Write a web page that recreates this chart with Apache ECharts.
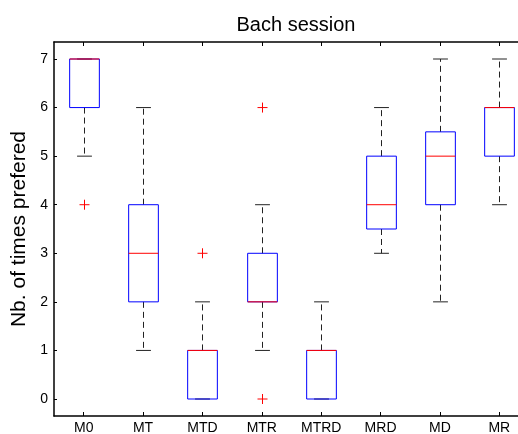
<!DOCTYPE html>
<html>
<head>
<meta charset="utf-8">
<script src="https://cdn.jsdelivr.net/npm/echarts@6/dist/echarts.min.js"></script>
<style>html,body{margin:0;padding:0;background:#fff;}#c{width:518px;height:434px;}</style>
</head>
<body>
<div id="c"></div>
<script>
const categories = ['M0', 'MT', 'MTD', 'MTR', 'MTRD', 'MRD', 'MD', 'MR'];
const lowWhisker = [5, 1, 0, 1, 0, 3, 2, 4];
const q1 = [6, 2, 0, 2, 0, 3.5, 4, 5];
const median = [7, 3, 1, 2, 1, 4, 5, 6];
const q3 = [7, 4, 1, 3, 1, 5, 5.5, 6];
const highWhisker = [7, 6, 2, 4, 2, 6, 7, 7];
const outlierCats = ['M0', 'MTD', 'MTR', 'MTR'];
const outlierVals = [4, 3, 6, 0];
const yTicks = [0, 1, 2, 3, 4, 5, 6, 7];

const boxData = categories.map((c, i) => [i, lowWhisker[i], q1[i], median[i], q3[i], highWhisker[i]]);
const outData = outlierCats.map((c, i) => [categories.indexOf(c), outlierVals[i]]);

const chart = echarts.init(document.getElementById('c'));
const font = 'Liberation Sans, Arial, Helvetica, sans-serif';

function renderBox(params, api) {
  const x = api.value(0);
  const pLow = api.coord([x, api.value(1)]);
  const pQ1 = api.coord([x, api.value(2)]);
  const pMed = api.coord([x, api.value(3)]);
  const pQ3 = api.coord([x, api.value(4)]);
  const pHigh = api.coord([x, api.value(5)]);
  const bw = api.size([1, 0])[0] * 0.5;
  const cw = bw * 0.5;
  const cx = Math.round(pMed[0]) + 0.5;
  const children = [];
  const dash = { stroke: '#222', lineWidth: 1, lineDash: [6, 4], fill: null };
  const solid = { stroke: '#222', lineWidth: 1, fill: null };
  if (api.value(5) > api.value(4)) {
    children.push({ type: 'line', shape: { x1: cx, y1: pQ3[1], x2: cx, y2: pHigh[1] }, style: dash });
  }
  if (api.value(1) < api.value(2)) {
    children.push({ type: 'line', shape: { x1: cx, y1: pQ1[1], x2: cx, y2: pLow[1] }, style: dash });
  }
  children.push({ type: 'line', shape: { x1: cx - cw / 2, y1: pHigh[1], x2: cx + cw / 2, y2: pHigh[1] }, style: solid });
  children.push({ type: 'line', shape: { x1: cx - cw / 2, y1: pLow[1], x2: cx + cw / 2, y2: pLow[1] }, style: solid });
  children.push({ type: 'rect', shape: { x: cx - bw / 2, y: pQ3[1], width: bw, height: pQ1[1] - pQ3[1] }, style: { stroke: '#0000ff', lineWidth: 1, fill: null } });
  children.push({ type: 'line', shape: { x1: cx - bw / 2, y1: pMed[1], x2: cx + bw / 2, y2: pMed[1] }, style: { stroke: '#ff0000', lineWidth: 1 } });
  return { type: 'group', children: children };
}

function renderOut(params, api) {
  const p = api.coord([api.value(0), api.value(1)]);
  const s = 5;
  const cx = Math.round(p[0]) + 0.5;
  return {
    type: 'group',
    children: [
      { type: 'line', shape: { x1: cx - s, y1: p[1], x2: cx + s, y2: p[1] }, style: { stroke: '#ff0000', lineWidth: 1 } },
      { type: 'line', shape: { x1: cx, y1: p[1] - s, x2: cx, y2: p[1] + s }, style: { stroke: '#ff0000', lineWidth: 1 } }
    ]
  };
}

chart.setOption({
  animation: false,
  backgroundColor: '#fff',
  title: {
    text: 'Bach session',
    left: 291,
    top: 10,
    textAlign: 'center',
    textStyle: { fontFamily: font, fontSize: 20, fontWeight: 'normal', color: '#000' }
  },
  grid: { left: 54, top: 42, width: 475, height: 374, containLabel: false, outerBoundsMode: 'none' },
  xAxis: [
    {
      type: 'category',
      data: categories,
      position: 'bottom',
      boundaryGap: true,
      axisLine: { show: true, onZero: false, lineStyle: { color: '#000', width: 1.5 } },
      axisTick: { show: true, inside: true, length: 4, alignWithLabel: true, lineStyle: { color: '#000' } },
      axisLabel: { color: '#000', fontFamily: font, fontSize: 14, margin: 5 },
      splitLine: { show: false }
    },
    {
      type: 'category',
      data: categories,
      position: 'top',
      boundaryGap: true,
      axisLine: { show: true, onZero: false, lineStyle: { color: '#000', width: 1.5 } },
      axisTick: { show: true, inside: true, length: 4, alignWithLabel: true, lineStyle: { color: '#000' } },
      axisLabel: { show: false },
      splitLine: { show: false }
    }
  ],
  yAxis: {
    type: 'value',
    min: -0.35,
    max: 7.35,
    name: 'Nb. of times prefered',
    nameLocation: 'middle',
    nameGap: 21,
    nameTextStyle: { fontFamily: font, fontSize: 21, color: '#000' },
    axisLine: { show: true, onZero: false, lineStyle: { color: '#000', width: 1.5 } },
    axisTick: { show: true, inside: true, length: 3, customValues: yTicks, lineStyle: { color: '#000' } },
    axisLabel: { color: '#000', fontFamily: font, fontSize: 14, margin: 6, customValues: yTicks },
    splitLine: { show: false }
  },
  series: [
    {
      type: 'custom',
      renderItem: renderBox,
      data: boxData,
      encode: { x: 0, y: [1, 2, 3, 4, 5] },
      clip: false
    },
    {
      type: 'custom',
      renderItem: renderOut,
      data: outData,
      encode: { x: 0, y: 1 }
    }
  ]
});
</script>
</body>
</html>
